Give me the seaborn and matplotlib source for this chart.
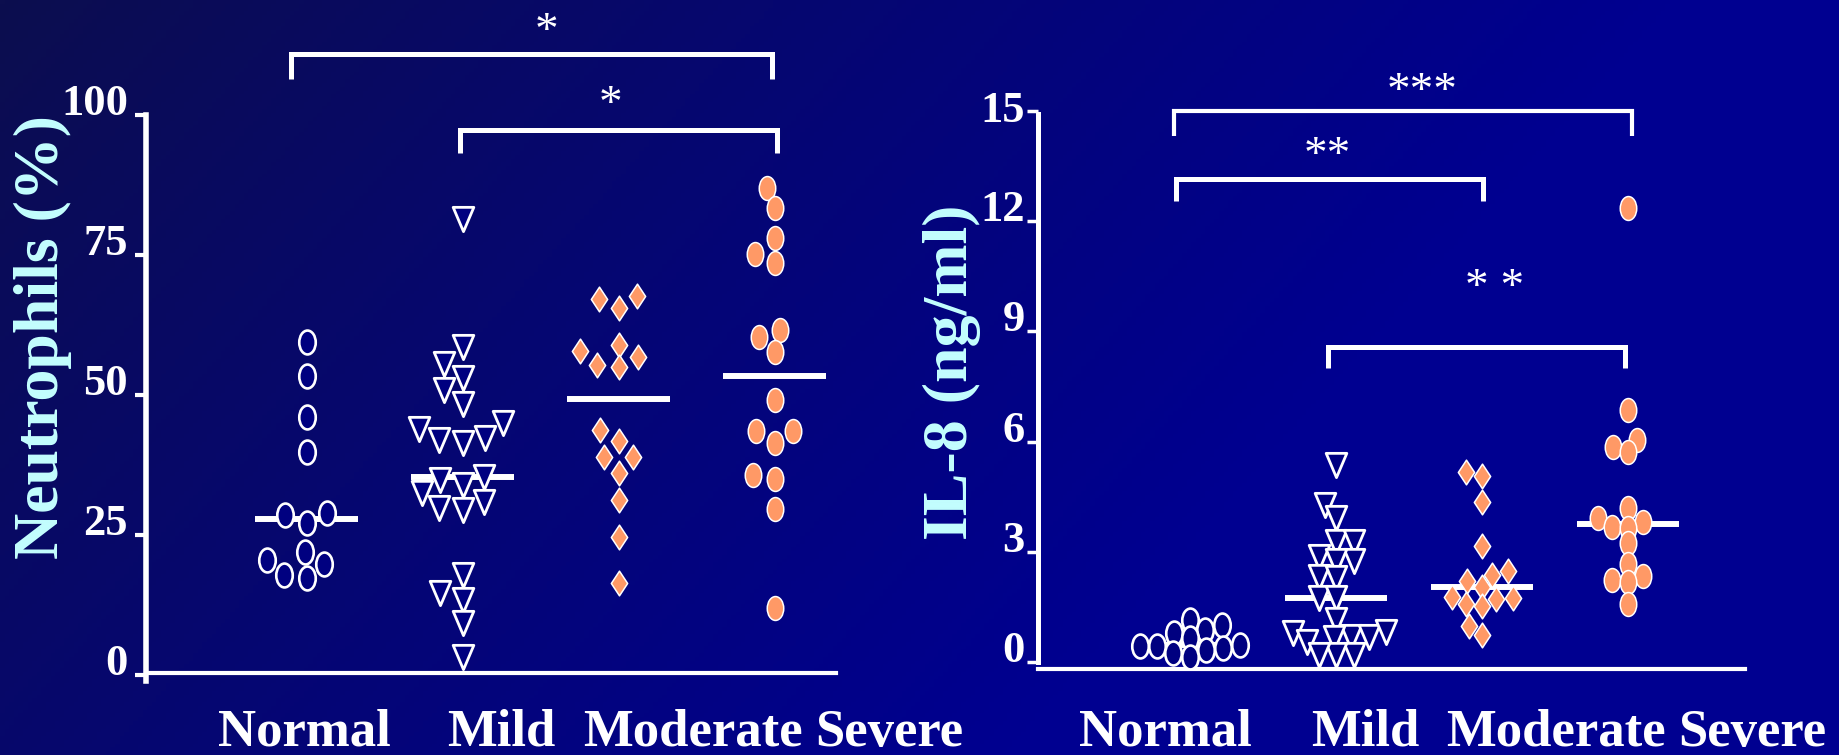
import numpy as np
import pandas as pd
import matplotlib
matplotlib.use("Agg")
import matplotlib.pyplot as plt
from matplotlib.path import Path
import seaborn as sns

# ---------------- data ----------------
categories = ["Normal", "Mild", "Moderate", "Severe"]

neut_normal = [59.4, 53.3, 46.0, 39.8, 28.6, 27.1, 28.9, 22.0, 19.9, 20.6, 17.4, 17.9]
neut_mild = [81.4, 58.6, 55.5, 53.1, 50.8, 48.4, 44.0, 42.0, 44.9, 41.4, 42.3, 35.4,
             33.9, 34.8, 30.9, 32.4, 29.5, 29.8, 17.9, 14.6, 13.4, 9.2, 3.3]
neut_moderate = [67.2, 65.6, 67.7, 58.9, 56.7, 57.9, 54.9, 55.4, 43.75, 41.7, 38.9,
                 38.9, 36.1, 31.25, 24.7, 16.5]
neut_severe = [86.9, 83.4, 78.0, 75.2, 73.5, 61.5, 60.4, 57.7, 49.1, 43.6, 43.6, 41.5,
               35.0, 35.7, 29.6, 12.0]

il8_normal = [1.0, 1.16, 0.89, 0.80, 0.66, 0.43, 0.38, 0.45, 0.34, 0.47, 0.15, 0.24]
il8_mild = [5.36, 4.28, 3.92, 3.28, 3.28, 2.87, 2.74, 2.74, 2.32, 2.28, 1.74, 1.74,
            1.15, 0.69, 0.79, 0.69, 0.83, 0.65, 0.55, 0.2, 0.2, 0.2]
il8_moderate = [5.05, 5.16, 4.35, 3.15, 2.49, 2.37, 2.2, 2.05, 1.72, 1.78, 1.74, 1.53,
                1.58, 0.99, 0.74]
il8_severe = [12.36, 6.86, 6.05, 5.86, 5.71, 4.2, 3.82, 3.91, 3.68, 3.66, 3.23, 2.66,
              2.35, 2.23, 2.19, 1.58]

neut_ticks = [0, 25, 50, 75, 100]
il8_ticks = [0, 3, 6, 9, 12, 15]
neut_ylabel = "Neutrophils (%)"
il8_ylabel = "IL-8 (ng/ml)"

neut_sig = [("Normal", "Severe", "*"), ("Mild", "Severe", "*")]
il8_sig = [("Normal", "Severe", "***"), ("Normal", "Moderate", "**"), ("Mild", "Severe", "* *")]

# ---------------- style ----------------
W, H = 1840, 755
DPI = 100
NAVY = "#000080"
ORANGE = "#FF9966"
CYAN = "#C4FFFF"
SERIF = ["Liberation Serif", "DejaVu Serif"]

plt.rcParams["font.family"] = SERIF


def closed(verts):
    codes = [Path.MOVETO] + [Path.LINETO] * (len(verts) - 2) + [Path.CLOSEPOLY]
    return Path(verts, codes)


_c = Path.unit_circle()
oval = Path(_c.vertices * np.array([0.69, 1.0]), _c.codes)
tri_down = closed([(-0.85, 1.0), (0.85, 1.0), (0.0, -1.0), (-0.85, 1.0)])
diamond = closed([(0, 1), (0.66, 0), (0, -1), (-0.66, 0), (0, 1)])

styles = {
    "Normal": dict(marker=oval, color=NAVY, lw=1.9, show=17.2),
    "Mild": dict(marker=tri_down, color=NAVY, lw=2.0, show=17.5),
    "Moderate": dict(marker=diamond, color=ORANGE, lw=1.1, show=17.8),
    "Severe": dict(marker=oval, color=ORANGE, lw=1.1, show=17.2),
}


def fx(px):
    return px / W


def fy(py):
    return 1 - py / H


fig = plt.figure(figsize=(W / DPI, H / DPI), dpi=DPI)

# background gradient
bg = fig.add_axes([0, 0, 1, 1], zorder=0)
yy, xx = np.mgrid[0:1:200j, 0:1:400j]
t = np.clip(1.1 * xx + 0.4 * yy, 0, 1) ** 0.9
c0 = np.array([12, 14, 78]) / 255
c1 = np.array([0, 0, 144]) / 255
bg.imshow(c0 + (c1 - c0) * t[..., None], extent=[0, 1, 0, 1], origin="upper", aspect="auto")
bg.set_axis_off()

swarm_colls = []


def draw_panel(ax, groups, half, swarm_size):
    for cat, vals in zip(categories, groups):
        st = styles[cat]
        df = pd.DataFrame({"group": [cat] * len(vals), "value": vals})
        n0 = len(ax.collections)
        sns.swarmplot(data=df, x="group", y="value", order=categories, ax=ax,
                      size=swarm_size, marker=st["marker"], color=st["color"],
                      edgecolor="white", linewidth=st["lw"], zorder=3, legend=False)
        for coll in ax.collections[n0:]:
            swarm_colls.append((coll, st["show"]))
        i = categories.index(cat)
        m = np.median(vals)
        ax.plot([i - half, i + half], [m, m], color="white", lw=4.3,
                solid_capstyle="butt", zorder=2)
    ax.set_xlabel("")
    ax.set_ylabel("")
    ax.set_facecolor("none")
    ax.spines["top"].set_visible(False)
    ax.spines["right"].set_visible(False)
    ax.spines["left"].set_color("white")
    ax.spines["bottom"].set_color("white")
    ax.set_xticks([])


STAR_SIZE = 34


def bracket(ax, x0, x1, ytop, ybot, text, tx, ty, lw=3.6):
    ax.plot([x0, x0, x1, x1], [ybot, ytop, ytop, ybot], color="white", lw=lw,
            solid_joinstyle="miter", solid_capstyle="butt", clip_on=False, zorder=4)
    ax.annotate(text, xy=(tx, ty), xytext=(0, -0.5 * STAR_SIZE), textcoords="offset points",
                ha="center", va="baseline", color="white", fontsize=STAR_SIZE,
                annotation_clip=False)


pos = {c: i for i, c in enumerate(categories)}

# ---------------- left panel ----------------
axL = fig.add_axes([fx(146), fy(681), fx(836 - 146), (681 - 114.8) / H], zorder=1)
draw_panel(axL, [neut_normal, neut_mild, neut_moderate, neut_severe], 0.33, 14.0)
axL.set_xlim(-1.029, 3.394)
axL.set_ylim(-1.07, 100)
axL.spines["bottom"].set_position(("data", 0.36))
axL.spines["left"].set_linewidth(4.0)
axL.spines["bottom"].set_linewidth(3.0)
axL.set_yticks(neut_ticks)
axL.set_yticklabels([str(v) for v in neut_ticks], fontsize=32, fontweight="bold",
                    color="white", va="baseline")
axL.tick_params(axis="y", direction="out", length=8, width=3, color="white", pad=5)

bracket(axL, pos[neut_sig[0][0]] - 0.10, pos[neut_sig[0][1]] - 0.015, 110.85, 106.4,
        neut_sig[0][2], 1.54, 116.9)
bracket(axL, pos[neut_sig[1][0]] - 0.015, pos[neut_sig[1][1]] + 0.015, 97.2, 93.2,
        neut_sig[1][2], 1.95, 103.9)

# ---------------- right panel ----------------
axR = fig.add_axes([fx(1038.5), fy(668.5), fx(1744.5 - 1038.5), (668.5 - 110.5) / H], zorder=1)
draw_panel(axR, [il8_normal, il8_mild, il8_moderate, il8_severe], 0.35, 10.0)
axR.set_xlim(-1.038, 3.798)
axR.set_ylim(-0.17, 15)
axR.spines["left"].set_bounds(0, 14.9)
axR.spines["left"].set_linewidth(3.6)
axR.spines["bottom"].set_linewidth(3.0)
axR.set_yticks(il8_ticks)
labs = axR.set_yticklabels([str(v) for v in il8_ticks], fontsize=32, fontweight="bold",
                           color="white", va="baseline")
labs[-1].set_va("center")
axR.tick_params(axis="y", direction="out", length=8, width=2.5, color="white", pad=2)

bracket(axR, pos[il8_sig[0][0]] - 0.11, pos[il8_sig[0][1]] + 0.03, 14.99, 14.31,
        il8_sig[0][2], 1.587, 15.83, lw=3.0)
bracket(axR, pos[il8_sig[1][0]] - 0.096, pos[il8_sig[1][1]] + 0.007, 13.14, 12.55,
        il8_sig[1][2], 0.943, 14.08)
bracket(axR, pos[il8_sig[2][0]] - 0.055, pos[il8_sig[2][1]] - 0.021, 8.58, 8.0,
        il8_sig[2][2], 2.084, 10.5)

# ---------------- axis titles & category labels ----------------
fig.text(fx(42.5), fy(337), neut_ylabel, rotation=90, ha="center", va="center",
         fontsize=46, fontweight="bold", color=CYAN)
fig.text(fx(952), fy(372.5), il8_ylabel, rotation=90, ha="center", va="center",
         fontsize=46, fontweight="bold", color=CYAN)

left_label_x = [304.5, 501, 693, 889]
right_label_x = [1165, 1365, 1556, 1752]
for cat, xl, xr in zip(categories, left_label_x, right_label_x):
    for xp in (xl, xr):
        fig.text(fx(xp), fy(746), cat, ha="center", va="baseline", fontsize=38,
                 fontweight="bold", color="white")

# compute the swarm layout once, then freeze it and enlarge the displayed markers
fig.canvas.draw()
for coll, show in swarm_colls:
    if "draw" in coll.__dict__:
        del coll.draw
    coll.set_sizes([show ** 2])

fig.savefig("out.png", dpi=DPI)
